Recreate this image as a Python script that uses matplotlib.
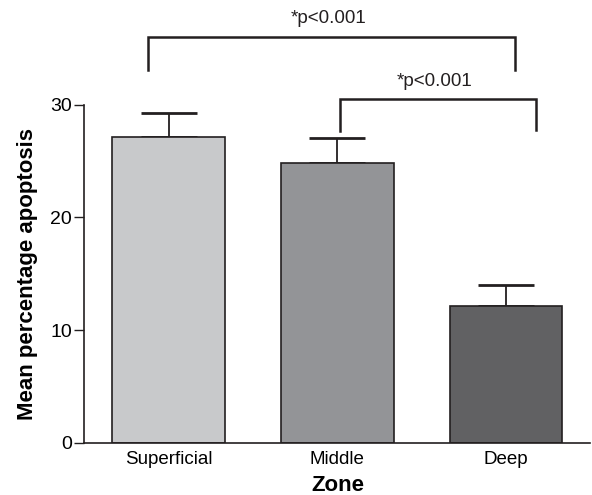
import matplotlib.pyplot as plt
import numpy as np

plt.rcParams['font.family'] = ['Liberation Sans', 'DejaVu Sans']

zones = ['Superficial', 'Middle', 'Deep']
means = [27.1, 24.8, 12.15]
errors = [2.15, 2.2, 1.85]
colors = ['#c8c9cb', '#939497', '#616163']
yticks = [0, 10, 20, 30]

# significance brackets: (x left, x right, y top, left leg bottom, right leg bottom, label, label y)
brackets = [
    (-0.123, 2.055, 36.0, 33.1, 33.1, '*p<0.001', 37.66),
    (1.014, 2.175, 30.5, 27.7, 27.75, '*p<0.001', 32.03),
]

edge = '#231f20'

fig = plt.figure(figsize=(5.92, 4.95), dpi=100)
ax = fig.add_axes([0.1424, 0.1057, 0.855, 0.6828])

x = np.arange(len(zones))
ax.bar(x, means, width=0.668, color=colors, edgecolor=edge, linewidth=1.2, zorder=2)
ax.errorbar(x, means, yerr=[np.zeros(len(errors)), errors], fmt='none',
            ecolor=edge, elinewidth=1.3, capsize=20.5, capthick=2.0, zorder=1)

for xl, xr, yt, bl, br, lab, ly in brackets:
    ax.plot([xl, xl, xr, xr], [bl, yt, yt, br], color=edge, lw=1.8,
            clip_on=False, solid_joinstyle='miter')
    ax.text((xl + xr) / 2 - 0.02, ly, lab, ha='center', va='center',
            fontsize=13.5, color='#231f20', clip_on=False)

ax.set_xlim(-0.5, 2.5)
ax.set_ylim(0, 30)
ax.set_yticks(yticks)
ax.set_xticks(x)
ax.set_xticklabels(zones)
ax.tick_params(axis='x', length=0, labelsize=13.5, pad=6)
ax.tick_params(axis='y', length=7, width=1, labelsize=14, pad=2, color=edge)
for s in ['top', 'right']:
    ax.spines[s].set_visible(False)
for s in ['left', 'bottom']:
    ax.spines[s].set_color(edge)
    ax.spines[s].set_linewidth(1.2)

ax.set_xlabel('Zone', fontsize=16, fontweight='bold', labelpad=5)
ax.set_ylabel('Mean percentage apoptosis', fontsize=16, fontweight='bold', labelpad=9)

fig.savefig('out.png', dpi=100)
